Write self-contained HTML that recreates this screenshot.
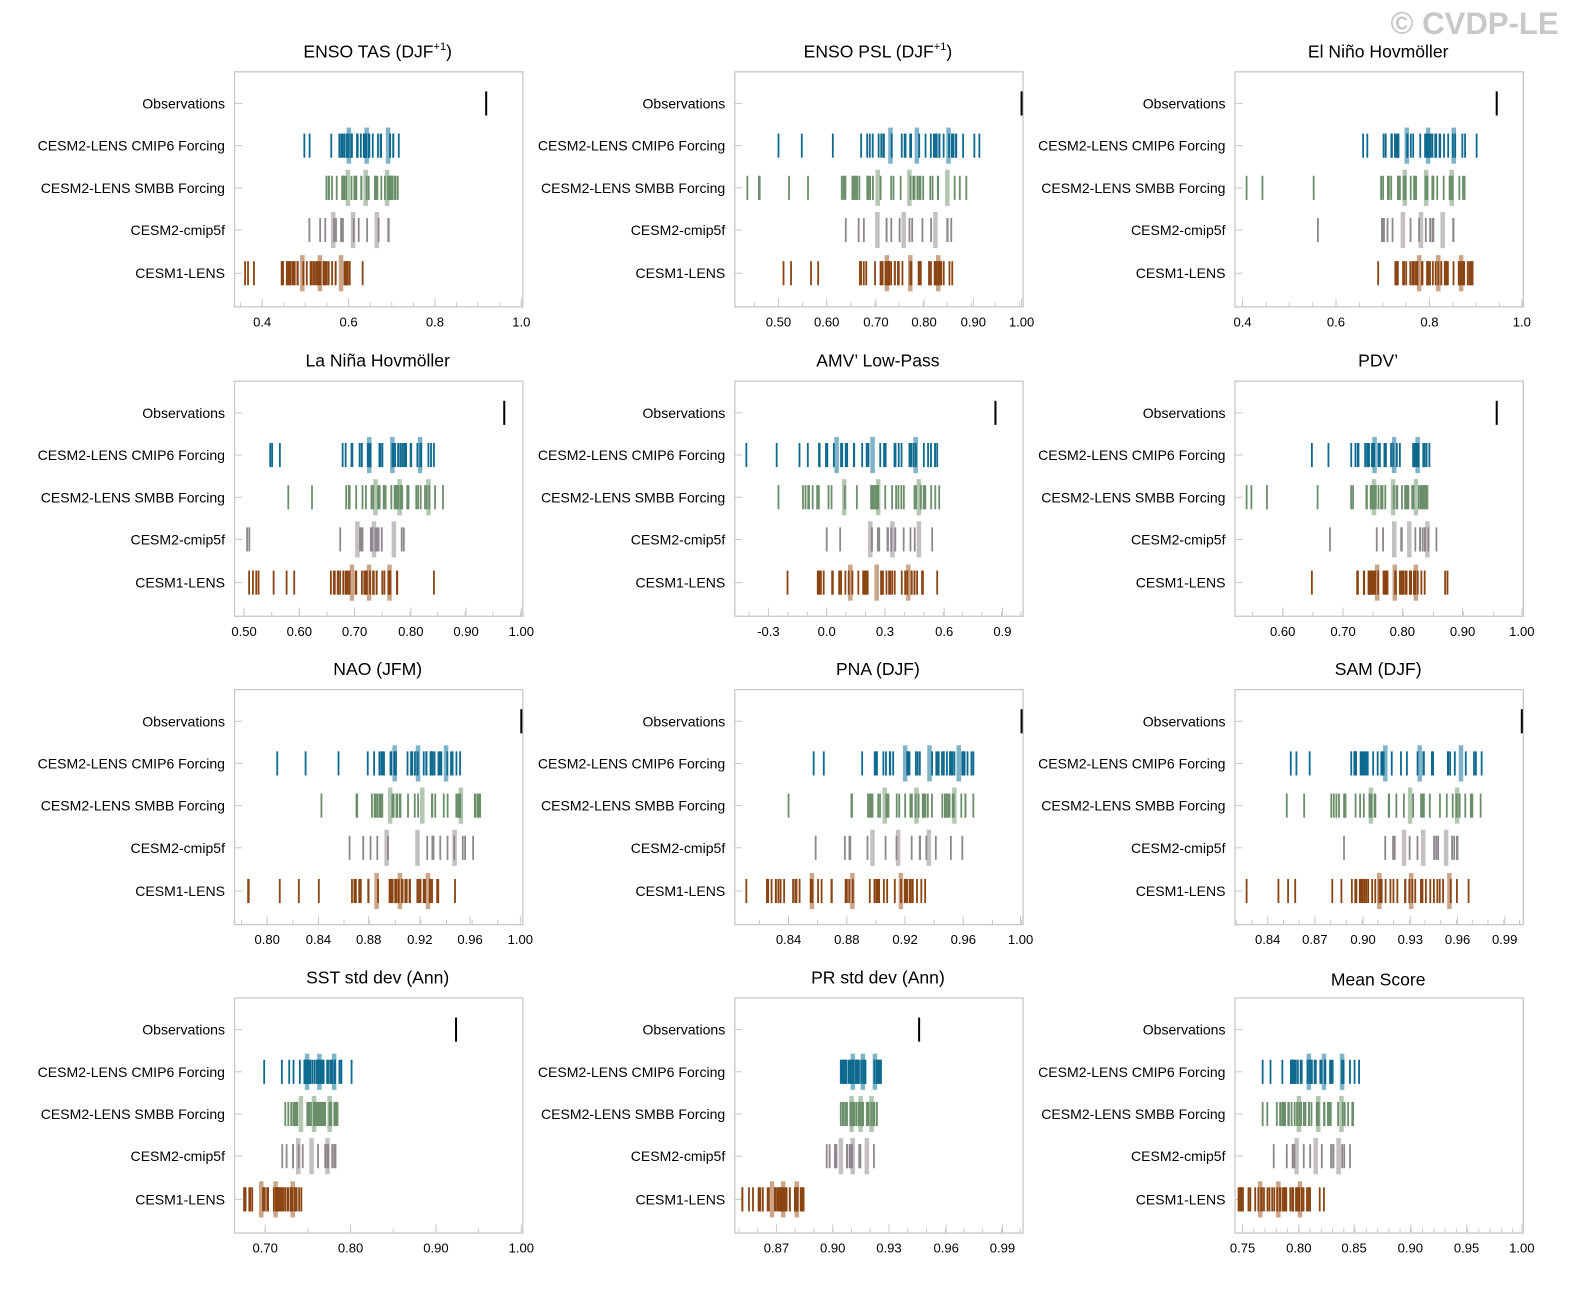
<!DOCTYPE html>
<html><head><meta charset="utf-8"><style>
html,body{margin:0;padding:0;background:#fff;overflow:hidden;width:1575px;height:1294px;}
svg{display:block;font-family:"Liberation Sans",sans-serif;}
</style></head><body>
<svg width="1575" height="1294" xmlns="http://www.w3.org/2000/svg">
<g id="s" transform="scale(1.0045)">
<text x="1468" y="34" font-size="31" font-weight="bold" fill="#c8c8c8" text-anchor="middle">© CVDP-LE</text>
</g>
</svg>
<script>
var S=document.getElementById('s'),out='';
var seed=7;function rnd(){seed=(seed*16807)%2147483647;return (seed-1)/2147483646;}
var cols=[233,731,1229],tops=[71,379,686,993];
var C=['#0f6a8f','#6b8f6b','#8e888e','#8b4513'];
var CL=['#7fb3c9','#b3c7b3','#c4c0c4','#caa58a'];
var names=['Observations','CESM2-LENS CMIP6 Forcing','CESM2-LENS SMBB Forcing','CESM2-cmip5f','CESM1-LENS'];
var sup='<tspan dy="-7" font-size="11">+1</tspan><tspan dy="7">)</tspan>';
var P=[
{t:'ENSO TAS (DJF'+sup,o:484,sub:4,s:[[303,397,326,397,35],[325,396,325,396,40],[308,387,308,387,12],[244,361,280,350,40]],tk:[['0.4',261],['0.6',347],['0.8',433],['1.0',519]]},
{t:'ENSO PSL (DJF'+sup,o:1017,sub:2,s:[[775,975,855,960,35],[744,962,836,962,35],[842,947,842,947,12],[780,948,855,948,40]],tk:[['0.50',775],['0.60',823],['0.70',872],['0.80',920],['0.90',969],['1.00',1017]]},
{t:'El Niño Hovmöller',o:1490,sub:4,s:[[1357,1470,1375,1460,35],[1241,1458,1373,1458,35],[1312,1447,1375,1447,12],[1372,1466,1390,1466,40]],tk:[['0.4',1237],['0.6',1330],['0.8',1423],['1.0',1515]]},
{t:'La Niña Hovmöller',o:502,sub:2,s:[[269,432,340,432,35],[287,441,345,441,35],[246,402,336,402,12],[248,432,330,398,40]],tk:[['0.50',243],['0.60',298],['0.70',353],['0.80',409],['0.90',464],['1.00',519]]},
{t:'AMV’ Low-Pass',o:991,sub:3,s:[[743,933,790,933,35],[775,935,800,935,35],[823,928,840,928,12],[784,933,815,920,40]],tk:[['-0.3',765],['0.0',823],['0.3',881],['0.6',940],['0.9',998]]},
{t:'PDV’',o:1490,sub:2,s:[[1306,1423,1345,1423,35],[1241,1421,1345,1421,35],[1324,1430,1370,1430,12],[1306,1441,1350,1420,40]],tk:[['0.60',1277],['0.70',1337],['0.80',1396],['0.90',1456],['1.00',1515]]},
{t:'NAO (JFM)',o:519,sub:2,s:[[276,458,365,458,35],[320,478,350,478,35],[348,471,348,471,12],[247,453,347,440,40]],tk:[['0.80',266],['0.84',317],['0.88',367],['0.92',418],['0.96',468],['1.00',518]]},
{t:'PNA (DJF)',o:1017,sub:2,s:[[810,969,872,969,35],[785,969,843,969,35],[812,958,838,940,12],[743,921,760,921,40]],tk:[['0.84',785],['0.88',843],['0.92',901],['0.96',959],['1.00',1016]]},
{t:'SAM (DJF)',o:1515,sub:3,s:[[1285,1475,1338,1475,35],[1281,1474,1318,1474,35],[1338,1451,1375,1451,12],[1241,1462,1335,1462,40]],tk:[['0.84',1262],['0.87',1309],['0.90',1357],['0.93',1404],['0.96',1451],['0.99',1498]]},
{t:'SST std dev (Ann)',o:454,sub:2,s:[[263,350,291,340,35],[284,336,284,336,35],[281,334,281,334,12],[243,300,243,300,40]],tk:[['0.70',264],['0.80',349],['0.90',434],['1.00',519]]},
{t:'PR std dev (Ann)',o:915,sub:3,s:[[837,877,837,877,35],[837,873,837,873,30],[823,870,823,870,12],[739,800,755,800,35]],tk:[['0.87',773],['0.90',829],['0.93',885],['0.96',942],['0.99',998]]},
{t:'Mean Score',o:null,sub:5,s:[[1257,1353,1285,1345,35],[1257,1347,1270,1347,35],[1268,1344,1268,1344,12],[1233,1318,1233,1305,40]],tk:[['0.75',1237],['0.80',1293],['0.85',1348],['0.90',1404],['0.95',1460],['1.00',1515]]}
];
var offs=[32,74,116,158,201];
P.forEach(function(p,i){
 var L=cols[i%3],T=tops[Math.floor(i/3)];
 var ty=(i==11)?T-12:T-14;
 out+='<text x="'+(L+143)+'" y="'+ty+'" font-size="17.5" text-anchor="middle" fill="#000">'+p.t+'</text>';
 out+='<rect x="'+L+'.5" y="'+T+'.5" width="287" height="234" fill="none" stroke="#c8c8c8" stroke-width="1.3"/>';
 offs.forEach(function(o,k){
  out+='<text x="'+(L-9)+'" y="'+(T+o+5)+'" font-size="14" text-anchor="end" fill="#000">'+names[k]+'</text>';
  out+='<line x1="'+L+'" x2="'+(L+8)+'" y1="'+(T+o)+'" y2="'+(T+o)+'" stroke="#c8c8c8"/>';
 });
 if(p.o!==null) out+='<line x1="'+p.o+'" x2="'+p.o+'" y1="'+(T+20)+'" y2="'+(T+44)+'" stroke="#000" stroke-width="2"/>';
 p.s.forEach(function(s,k){
  var y=T+offs[k+1],c=C[k];
  var lo=s[0],hi=s[1],dl=s[2],dh=s[3],n=s[4];
  [0.3,0.55,0.85].forEach(function(f){var x=dl+(dh-dl)*f;
   out+='<line x1="'+x+'" x2="'+x+'" y1="'+(y-18)+'" y2="'+(y+18)+'" stroke="'+CL[k]+'" stroke-width="4.5"/>';});
  var xs=[lo,hi];
  for(var j=0;j<n;j++){xs.push(rnd()<0.85?dl+(dh-dl)*rnd():lo+(hi-lo)*rnd());}
  xs.forEach(function(x){out+='<line x1="'+x.toFixed(1)+'" x2="'+x.toFixed(1)+'" y1="'+(y-12)+'" y2="'+(y+12)+'" stroke="'+c+'" stroke-width="1.8"/>';});
 });
 var B=T+234;
 var step=p.tk[1][1]-p.tk[0][1],d=step/p.sub;
 for(var x=p.tk[0][1]-d*Math.floor((p.tk[0][1]-L)/d);x<=L+287.5;x+=d){
  out+='<line x1="'+x.toFixed(1)+'" x2="'+x.toFixed(1)+'" y1="'+B+'" y2="'+(B-4)+'" stroke="#c8c8c8"/>';
 }
 p.tk.forEach(function(t,j){
  out+='<line x1="'+t[1]+'" x2="'+t[1]+'" y1="'+B+'" y2="'+(B-8)+'" stroke="#c8c8c8"/>';
  out+='<text x="'+t[1]+'" y="'+(B+20)+'" font-size="13" text-anchor="middle" fill="#000">'+t[0]+'</text>';
 });
});
S.insertAdjacentHTML('beforeend',out);
</script>
</body></html>
